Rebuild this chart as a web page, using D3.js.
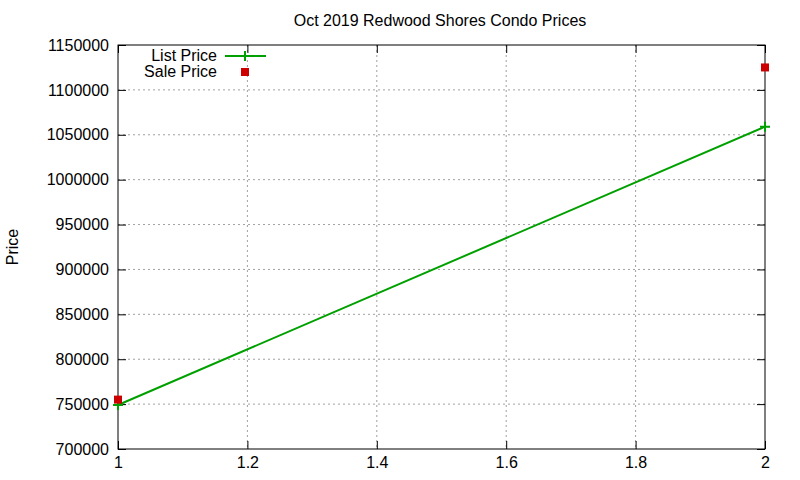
<!DOCTYPE html>
<html>
<head>
<meta charset="utf-8">
<script src="https://cdn.jsdelivr.net/npm/d3@7"></script>
<style>
  body { margin: 0; background: #fff; }
  text { font-family: "Liberation Sans", Arial, sans-serif; }
</style>
</head>
<body>
<svg id="chart" width="800" height="480"></svg>
<script>
// data
var xs = [1, 2]
var list_price = [749000, 1059000]
var sale_price = [755000, 1125000]
var x_ticks = [1, 1.2, 1.4, 1.6, 1.8, 2]
var y_ticks = [700000, 750000, 800000, 850000, 900000, 950000, 1000000, 1050000, 1100000, 1150000]

const margin = {top: 45, right: 35, bottom: 31, left: 118},
    width = 800 - margin.left - margin.right,
    height = 480 - margin.top - margin.bottom;

const svg = d3.select("#chart")
const g = svg.append("g")
    .attr("transform", `translate(${margin.left}, ${margin.top})`)

const x = d3.scaleLinear().domain([1, 2]).range([0, width])
const y = d3.scaleLinear().domain([700000, 1150000]).range([height, 0])

// grid
g.append("g").selectAll("line")
  .data(x_ticks.slice(1, -1))
  .join("line")
    .attr("x1", d => x(d)).attr("x2", d => x(d))
    .attr("y1", 0).attr("y2", height)
    .attr("stroke", "#a0a0a0").attr("stroke-dasharray", "2,3")
g.append("g").selectAll("line")
  .data(y_ticks.slice(1, -1))
  .join("line")
    .attr("x1", 0).attr("x2", width)
    .attr("y1", d => y(d)).attr("y2", d => y(d))
    .attr("stroke", "#a0a0a0").attr("stroke-dasharray", "2,3")

// axes, ticks drawn inward and mirrored
function style_axis(sel){
  sel.select(".domain").remove()
  sel.selectAll("text").style("font-size", "16px").attr("fill", "black")
  sel.selectAll("line").attr("stroke", "black")
}
g.append("g").attr("transform", `translate(0, ${height})`)
  .call(d3.axisBottom(x).tickValues(x_ticks).tickSizeInner(-8).tickSizeOuter(0).tickPadding(8).tickFormat(d3.format("")))
  .call(style_axis)
g.append("g")
  .call(d3.axisTop(x).tickValues(x_ticks).tickSizeInner(-8).tickSizeOuter(0).tickFormat(""))
  .call(style_axis)
g.append("g")
  .call(d3.axisLeft(y).tickValues(y_ticks).tickSizeInner(-8).tickSizeOuter(0).tickPadding(9).tickFormat(d3.format("d")))
  .call(style_axis)
g.append("g").attr("transform", `translate(${width}, 0)`)
  .call(d3.axisRight(y).tickValues(y_ticks).tickSizeInner(-8).tickSizeOuter(0).tickFormat(""))
  .call(style_axis)

// frame
g.append("rect")
  .attr("width", width).attr("height", height)
  .attr("fill", "none").attr("stroke", "black")

// list price line
const line = d3.line().x((d, i) => x(xs[i])).y(d => y(d))
g.append("path").datum(list_price)
  .attr("d", line)
  .attr("fill", "none").attr("stroke", "#00a000").attr("stroke-width", 2)

function plus(sel){
  sel.append("path")
    .attr("d", "M-5,0H5M0,-5V5")
    .attr("stroke", "#00a000").attr("stroke-width", 2)
}
g.selectAll(".lp")
  .data(list_price)
  .join("g")
    .attr("class", "lp")
    .attr("transform", (d, i) => `translate(${x(xs[i])},${y(d)})`)
    .call(plus)

// sale price points
g.selectAll(".sp")
  .data(sale_price)
  .join("rect")
    .attr("class", "sp")
    .attr("x", (d, i) => x(xs[i]) - 4)
    .attr("y", d => y(d) - 4)
    .attr("width", 8).attr("height", 8)
    .attr("fill", "#cc0000")

// legend
const legend = svg.append("g")
legend.append("text").attr("x", 217).attr("y", 61).attr("text-anchor", "end")
  .style("font-size", "16px").text("List Price")
legend.append("line").attr("x1", 225).attr("x2", 266).attr("y1", 56).attr("y2", 56)
  .attr("stroke", "#00a000").attr("stroke-width", 2)
legend.append("g").attr("transform", "translate(245,56)").call(plus)
legend.append("text").attr("x", 217).attr("y", 77).attr("text-anchor", "end")
  .style("font-size", "16px").text("Sale Price")
legend.append("rect").attr("x", 241).attr("y", 68).attr("width", 8).attr("height", 8)
  .attr("fill", "#cc0000")

// title and label
svg.append("text").attr("x", 440).attr("y", 26).attr("text-anchor", "middle")
  .style("font-size", "16px").text("Oct 2019 Redwood Shores Condo Prices")
svg.append("text")
  .attr("transform", "translate(18,247) rotate(-90)")
  .attr("text-anchor", "middle")
  .style("font-size", "16px").text("Price")
</script>
</body>
</html>
